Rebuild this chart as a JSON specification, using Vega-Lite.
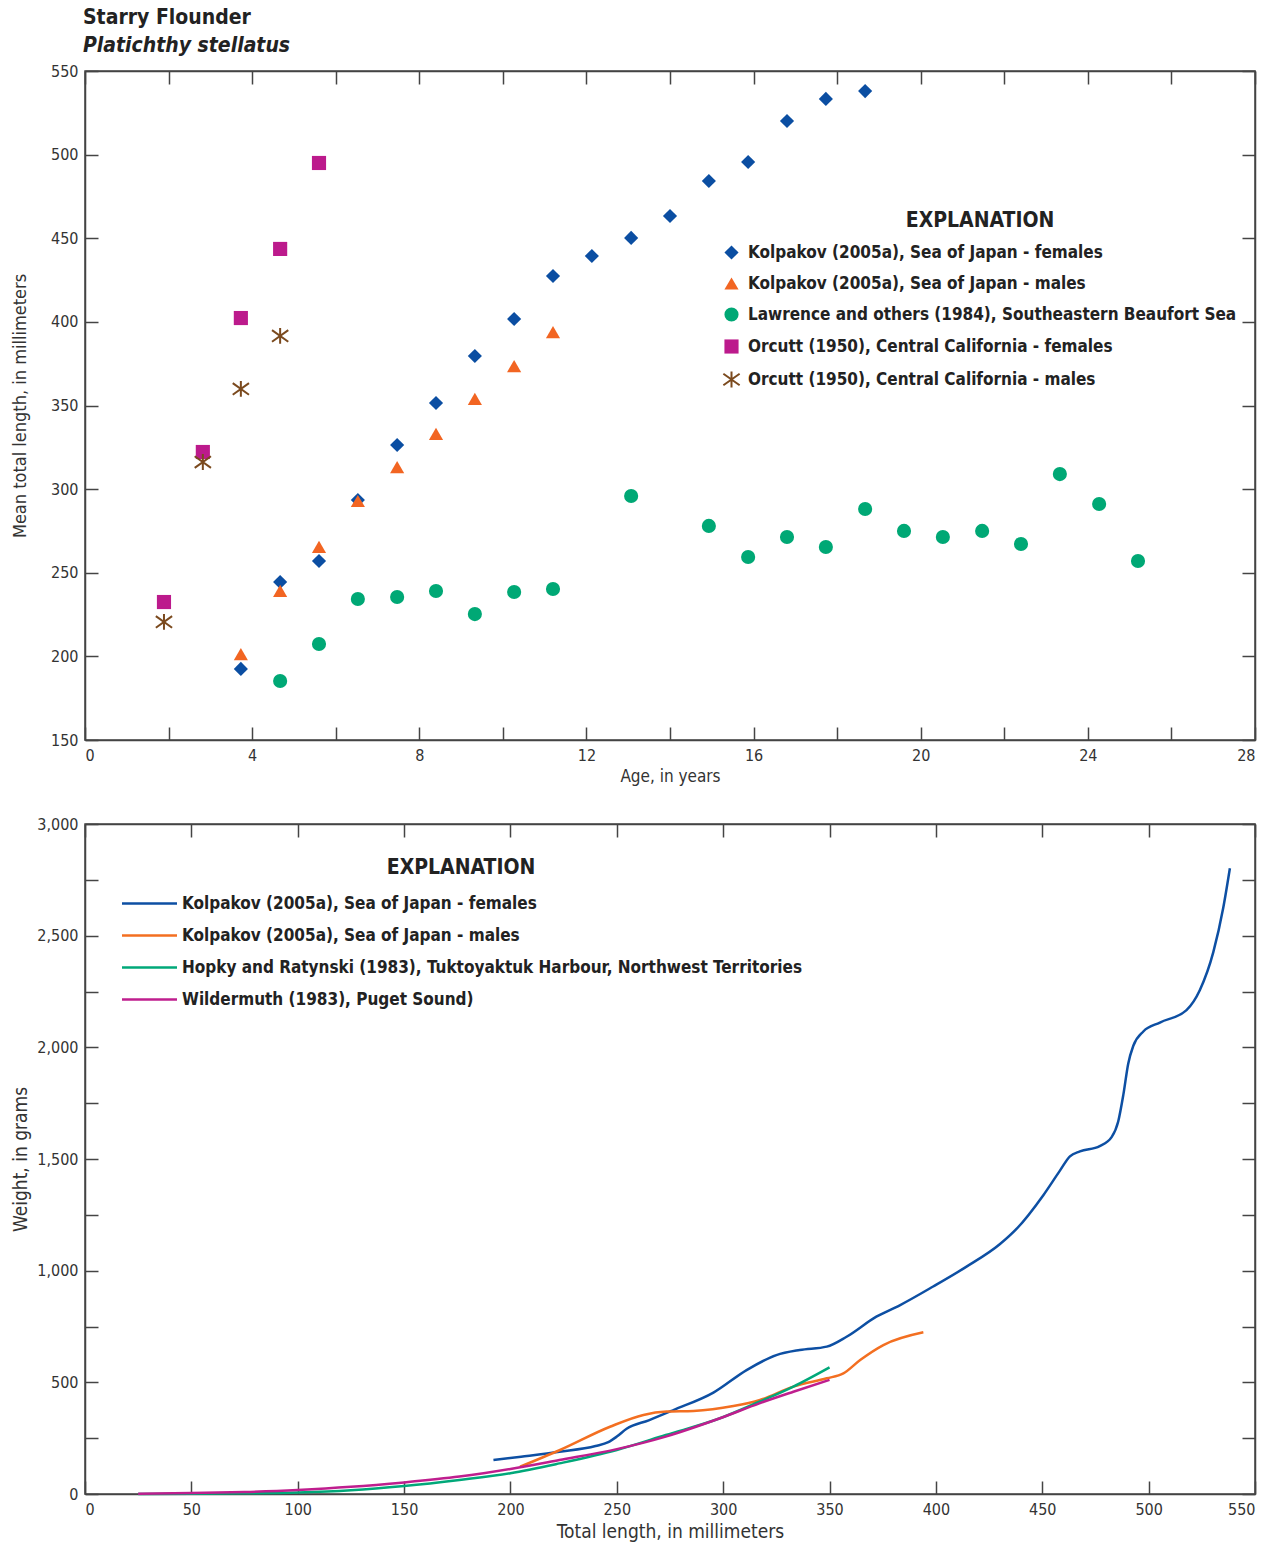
{
  "$schema": "https://vega.github.io/schema/vega-lite/v6.json",
  "background": "white",
  "padding": {"left": 10, "top": 6, "right": 13, "bottom": 5},
  "spacing": 30,
  "config": {
    "font": "DejaVu Sans Condensed",
    "view": {"stroke": "#444", "strokeWidth": 1.5},
    "axis": {"labelFont": "DejaVu Sans Condensed", "titleFont": "DejaVu Sans Condensed", "labelFontSize": 16, "titleFontSize": 18, "titleFontWeight": "normal", "labelColor": "#333", "titleColor": "#333", "domainColor": "#444", "domainWidth": 1.5, "tickColor": "#444", "tickWidth": 1.5, "tickSize": -13, "grid": false, "labelPadding": 20},
    "legend": {"labelFont": "DejaVu Sans Condensed", "titleFont": "DejaVu Sans Condensed", "labelFontWeight": "bold", "titleFontWeight": "bold", "labelColor": "#222", "titleColor": "#222", "labelLimit": 800}
  },
  "datasets": {
    "pts": [
      {"series": "Kolpakov (2005a), Sea of Japan - females", "age": 3.73, "len": 192.5},
      {"series": "Kolpakov (2005a), Sea of Japan - females", "age": 4.67, "len": 244.5},
      {"series": "Kolpakov (2005a), Sea of Japan - females", "age": 5.6, "len": 257},
      {"series": "Kolpakov (2005a), Sea of Japan - females", "age": 6.53, "len": 293.5},
      {"series": "Kolpakov (2005a), Sea of Japan - females", "age": 7.47, "len": 326.4},
      {"series": "Kolpakov (2005a), Sea of Japan - females", "age": 8.4, "len": 351.5},
      {"series": "Kolpakov (2005a), Sea of Japan - females", "age": 9.33, "len": 379.6},
      {"series": "Kolpakov (2005a), Sea of Japan - females", "age": 10.27, "len": 401.7},
      {"series": "Kolpakov (2005a), Sea of Japan - females", "age": 11.2, "len": 427.4},
      {"series": "Kolpakov (2005a), Sea of Japan - females", "age": 12.13, "len": 439.4},
      {"series": "Kolpakov (2005a), Sea of Japan - females", "age": 13.07, "len": 450.2},
      {"series": "Kolpakov (2005a), Sea of Japan - females", "age": 14.0, "len": 463.3},
      {"series": "Kolpakov (2005a), Sea of Japan - females", "age": 14.93, "len": 484.2},
      {"series": "Kolpakov (2005a), Sea of Japan - females", "age": 15.87, "len": 495.6},
      {"series": "Kolpakov (2005a), Sea of Japan - females", "age": 16.8, "len": 520.1},
      {"series": "Kolpakov (2005a), Sea of Japan - females", "age": 17.73, "len": 533.3},
      {"series": "Kolpakov (2005a), Sea of Japan - females", "age": 18.67, "len": 538.0},
      {"series": "Orcutt (1950), Central California - females", "age": 1.89, "len": 232.5},
      {"series": "Orcutt (1950), Central California - females", "age": 2.82, "len": 322.2},
      {"series": "Orcutt (1950), Central California - females", "age": 3.73, "len": 402.3},
      {"series": "Orcutt (1950), Central California - females", "age": 4.67, "len": 443.6},
      {"series": "Orcutt (1950), Central California - females", "age": 5.6, "len": 495},
      {"series": "Lawrence and others (1984), Southeastern Beaufort Sea", "age": 4.67, "len": 185.3},
      {"series": "Lawrence and others (1984), Southeastern Beaufort Sea", "age": 5.6, "len": 207.4},
      {"series": "Lawrence and others (1984), Southeastern Beaufort Sea", "age": 6.53, "len": 234.3},
      {"series": "Lawrence and others (1984), Southeastern Beaufort Sea", "age": 7.47, "len": 235.5},
      {"series": "Lawrence and others (1984), Southeastern Beaufort Sea", "age": 8.4, "len": 239.1},
      {"series": "Lawrence and others (1984), Southeastern Beaufort Sea", "age": 9.33, "len": 225.3},
      {"series": "Lawrence and others (1984), Southeastern Beaufort Sea", "age": 10.27, "len": 238.5},
      {"series": "Lawrence and others (1984), Southeastern Beaufort Sea", "age": 11.2, "len": 240.3},
      {"series": "Lawrence and others (1984), Southeastern Beaufort Sea", "age": 13.07, "len": 295.9},
      {"series": "Lawrence and others (1984), Southeastern Beaufort Sea", "age": 14.93, "len": 278.0},
      {"series": "Lawrence and others (1984), Southeastern Beaufort Sea", "age": 15.87, "len": 259.4},
      {"series": "Lawrence and others (1984), Southeastern Beaufort Sea", "age": 16.8, "len": 271.4},
      {"series": "Lawrence and others (1984), Southeastern Beaufort Sea", "age": 17.73, "len": 265.4},
      {"series": "Lawrence and others (1984), Southeastern Beaufort Sea", "age": 18.67, "len": 288.1},
      {"series": "Lawrence and others (1984), Southeastern Beaufort Sea", "age": 19.6, "len": 275.0},
      {"series": "Lawrence and others (1984), Southeastern Beaufort Sea", "age": 20.53, "len": 271.4},
      {"series": "Lawrence and others (1984), Southeastern Beaufort Sea", "age": 21.47, "len": 275.0},
      {"series": "Lawrence and others (1984), Southeastern Beaufort Sea", "age": 22.4, "len": 267.2},
      {"series": "Lawrence and others (1984), Southeastern Beaufort Sea", "age": 23.33, "len": 309.0},
      {"series": "Lawrence and others (1984), Southeastern Beaufort Sea", "age": 24.27, "len": 291.1},
      {"series": "Lawrence and others (1984), Southeastern Beaufort Sea", "age": 25.2, "len": 257.0},
      {"series": "Kolpakov (2005a), Sea of Japan - males", "age": 3.73, "len": 201.4},
      {"series": "Kolpakov (2005a), Sea of Japan - males", "age": 4.67, "len": 239.1},
      {"series": "Kolpakov (2005a), Sea of Japan - males", "age": 5.6, "len": 265.4},
      {"series": "Kolpakov (2005a), Sea of Japan - males", "age": 6.53, "len": 292.9},
      {"series": "Kolpakov (2005a), Sea of Japan - males", "age": 7.47, "len": 313.2},
      {"series": "Kolpakov (2005a), Sea of Japan - males", "age": 8.4, "len": 333.0},
      {"series": "Kolpakov (2005a), Sea of Japan - males", "age": 9.33, "len": 353.9},
      {"series": "Kolpakov (2005a), Sea of Japan - males", "age": 10.27, "len": 373.6},
      {"series": "Kolpakov (2005a), Sea of Japan - males", "age": 11.2, "len": 393.9},
      {"series": "Orcutt (1950), Central California - males", "age": 1.89, "len": 220.6},
      {"series": "Orcutt (1950), Central California - males", "age": 2.82, "len": 316.2},
      {"series": "Orcutt (1950), Central California - males", "age": 3.73, "len": 359.9},
      {"series": "Orcutt (1950), Central California - males", "age": 4.67, "len": 391.6}
    ],
    "lines": [
      {"source": "Kolpakov (2005a), Sea of Japan - females", "tl": 192, "w": 152},
      {"source": "Kolpakov (2005a), Sea of Japan - females", "tl": 205, "w": 167},
      {"source": "Kolpakov (2005a), Sea of Japan - females", "tl": 223, "w": 189},
      {"source": "Kolpakov (2005a), Sea of Japan - females", "tl": 240, "w": 215},
      {"source": "Kolpakov (2005a), Sea of Japan - females", "tl": 246, "w": 232},
      {"source": "Kolpakov (2005a), Sea of Japan - females", "tl": 250, "w": 257},
      {"source": "Kolpakov (2005a), Sea of Japan - females", "tl": 254.6, "w": 292},
      {"source": "Kolpakov (2005a), Sea of Japan - females", "tl": 265, "w": 330},
      {"source": "Kolpakov (2005a), Sea of Japan - females", "tl": 276.6, "w": 376},
      {"source": "Kolpakov (2005a), Sea of Japan - females", "tl": 295.4, "w": 454},
      {"source": "Kolpakov (2005a), Sea of Japan - females", "tl": 311, "w": 555},
      {"source": "Kolpakov (2005a), Sea of Japan - females", "tl": 325, "w": 622},
      {"source": "Kolpakov (2005a), Sea of Japan - females", "tl": 336, "w": 645},
      {"source": "Kolpakov (2005a), Sea of Japan - females", "tl": 348.7, "w": 660},
      {"source": "Kolpakov (2005a), Sea of Japan - females", "tl": 358, "w": 704},
      {"source": "Kolpakov (2005a), Sea of Japan - females", "tl": 372, "w": 794},
      {"source": "Kolpakov (2005a), Sea of Japan - females", "tl": 383, "w": 845},
      {"source": "Kolpakov (2005a), Sea of Japan - females", "tl": 398.7, "w": 929},
      {"source": "Kolpakov (2005a), Sea of Japan - females", "tl": 414.4, "w": 1018},
      {"source": "Kolpakov (2005a), Sea of Japan - females", "tl": 430, "w": 1118},
      {"source": "Kolpakov (2005a), Sea of Japan - females", "tl": 438, "w": 1188},
      {"source": "Kolpakov (2005a), Sea of Japan - females", "tl": 450.5, "w": 1338},
      {"source": "Kolpakov (2005a), Sea of Japan - females", "tl": 458.3, "w": 1448},
      {"source": "Kolpakov (2005a), Sea of Japan - females", "tl": 463, "w": 1512},
      {"source": "Kolpakov (2005a), Sea of Japan - females", "tl": 467.7, "w": 1534},
      {"source": "Kolpakov (2005a), Sea of Japan - females", "tl": 477, "w": 1558},
      {"source": "Kolpakov (2005a), Sea of Japan - females", "tl": 482.6, "w": 1598},
      {"source": "Kolpakov (2005a), Sea of Japan - females", "tl": 485.7, "w": 1668},
      {"source": "Kolpakov (2005a), Sea of Japan - females", "tl": 488.1, "w": 1787},
      {"source": "Kolpakov (2005a), Sea of Japan - females", "tl": 490.4, "w": 1927},
      {"source": "Kolpakov (2005a), Sea of Japan - females", "tl": 492.8, "w": 2007},
      {"source": "Kolpakov (2005a), Sea of Japan - females", "tl": 497.5, "w": 2071},
      {"source": "Kolpakov (2005a), Sea of Japan - females", "tl": 505.3, "w": 2111},
      {"source": "Kolpakov (2005a), Sea of Japan - females", "tl": 517.8, "w": 2167},
      {"source": "Kolpakov (2005a), Sea of Japan - females", "tl": 524.1, "w": 2257},
      {"source": "Kolpakov (2005a), Sea of Japan - females", "tl": 530.4, "w": 2426},
      {"source": "Kolpakov (2005a), Sea of Japan - females", "tl": 535.1, "w": 2626},
      {"source": "Kolpakov (2005a), Sea of Japan - females", "tl": 538.2, "w": 2802},
      {"source": "Kolpakov (2005a), Sea of Japan - males", "tl": 204.5, "w": 122},
      {"source": "Kolpakov (2005a), Sea of Japan - males", "tl": 223.3, "w": 197},
      {"source": "Kolpakov (2005a), Sea of Japan - males", "tl": 246.8, "w": 301},
      {"source": "Kolpakov (2005a), Sea of Japan - males", "tl": 262.5, "w": 354},
      {"source": "Kolpakov (2005a), Sea of Japan - males", "tl": 273.4, "w": 369},
      {"source": "Kolpakov (2005a), Sea of Japan - males", "tl": 286, "w": 372},
      {"source": "Kolpakov (2005a), Sea of Japan - males", "tl": 304.8, "w": 394},
      {"source": "Kolpakov (2005a), Sea of Japan - males", "tl": 317.3, "w": 421},
      {"source": "Kolpakov (2005a), Sea of Japan - males", "tl": 333, "w": 481},
      {"source": "Kolpakov (2005a), Sea of Japan - males", "tl": 348.7, "w": 518},
      {"source": "Kolpakov (2005a), Sea of Japan - males", "tl": 356.5, "w": 540},
      {"source": "Kolpakov (2005a), Sea of Japan - males", "tl": 364.4, "w": 600},
      {"source": "Kolpakov (2005a), Sea of Japan - males", "tl": 375.3, "w": 667},
      {"source": "Kolpakov (2005a), Sea of Japan - males", "tl": 394.1, "w": 724},
      {"source": "Hopky and Ratynski (1983), Tuktoyaktuk Harbour, Northwest Territories", "tl": 25, "w": 0},
      {"source": "Hopky and Ratynski (1983), Tuktoyaktuk Harbour, Northwest Territories", "tl": 50, "w": 1},
      {"source": "Hopky and Ratynski (1983), Tuktoyaktuk Harbour, Northwest Territories", "tl": 75, "w": 3},
      {"source": "Hopky and Ratynski (1983), Tuktoyaktuk Harbour, Northwest Territories", "tl": 100, "w": 7},
      {"source": "Hopky and Ratynski (1983), Tuktoyaktuk Harbour, Northwest Territories", "tl": 125, "w": 17},
      {"source": "Hopky and Ratynski (1983), Tuktoyaktuk Harbour, Northwest Territories", "tl": 150, "w": 36},
      {"source": "Hopky and Ratynski (1983), Tuktoyaktuk Harbour, Northwest Territories", "tl": 176, "w": 63},
      {"source": "Hopky and Ratynski (1983), Tuktoyaktuk Harbour, Northwest Territories", "tl": 200, "w": 93},
      {"source": "Hopky and Ratynski (1983), Tuktoyaktuk Harbour, Northwest Territories", "tl": 223, "w": 137},
      {"source": "Hopky and Ratynski (1983), Tuktoyaktuk Harbour, Northwest Territories", "tl": 250, "w": 197},
      {"source": "Hopky and Ratynski (1983), Tuktoyaktuk Harbour, Northwest Territories", "tl": 273, "w": 264},
      {"source": "Hopky and Ratynski (1983), Tuktoyaktuk Harbour, Northwest Territories", "tl": 298.5, "w": 339},
      {"source": "Hopky and Ratynski (1983), Tuktoyaktuk Harbour, Northwest Territories", "tl": 317, "w": 413},
      {"source": "Hopky and Ratynski (1983), Tuktoyaktuk Harbour, Northwest Territories", "tl": 333, "w": 481},
      {"source": "Hopky and Ratynski (1983), Tuktoyaktuk Harbour, Northwest Territories", "tl": 350, "w": 567},
      {"source": "Wildermuth (1983), Puget Sound)", "tl": 25, "w": 1},
      {"source": "Wildermuth (1983), Puget Sound)", "tl": 50, "w": 4},
      {"source": "Wildermuth (1983), Puget Sound)", "tl": 75, "w": 9},
      {"source": "Wildermuth (1983), Puget Sound)", "tl": 100, "w": 18},
      {"source": "Wildermuth (1983), Puget Sound)", "tl": 125, "w": 32},
      {"source": "Wildermuth (1983), Puget Sound)", "tl": 150, "w": 52},
      {"source": "Wildermuth (1983), Puget Sound)", "tl": 176, "w": 78},
      {"source": "Wildermuth (1983), Puget Sound)", "tl": 200, "w": 112},
      {"source": "Wildermuth (1983), Puget Sound)", "tl": 223, "w": 152},
      {"source": "Wildermuth (1983), Puget Sound)", "tl": 250, "w": 201},
      {"source": "Wildermuth (1983), Puget Sound)", "tl": 273, "w": 257},
      {"source": "Wildermuth (1983), Puget Sound)", "tl": 298.5, "w": 339},
      {"source": "Wildermuth (1983), Puget Sound)", "tl": 317, "w": 406},
      {"source": "Wildermuth (1983), Puget Sound)", "tl": 333, "w": 458},
      {"source": "Wildermuth (1983), Puget Sound)", "tl": 350, "w": 511}
    ]
  },
  "resolve": {"scale": {"fill": "independent", "stroke": "independent", "shape": "independent", "color": "independent"}, "legend": {"fill": "independent", "stroke": "independent", "shape": "independent", "color": "independent"}},
  "vconcat": [
    {
      "width": 1170,
      "height": 669,
      "title": {"text": "Starry Flounder", "subtitle": "Platichthy stellatus", "anchor": "start", "frame": "group", "font": "DejaVu Sans Condensed", "fontSize": 21, "fontWeight": "bold", "color": "#222", "subtitleFont": "DejaVu Sans Condensed", "subtitleFontSize": 21, "subtitleFontWeight": "bold", "subtitleFontStyle": "italic", "subtitleColor": "#222", "subtitlePadding": 7, "offset": 7, "dx": -2},
      "data": {"name": "pts"},
      "layer": [
        {
          "mark": {"type": "point", "filled": true, "opacity": 1, "strokeWidth": 2},
          "encoding": {
            "x": {"field": "age", "type": "quantitative", "scale": {"domain": [0, 28], "nice": false}, "axis": {"orient": "bottom", "title": "Age, in years", "values": [0, 2, 4, 6, 8, 10, 12, 14, 16, 18, 20, 22, 24, 26, 28], "labelExpr": "datum.value % 4 === 0 ? datum.label : ''", "titlePadding": 5, "titleFontSize": 17}},
            "y": {"field": "len", "type": "quantitative", "scale": {"domain": [150, 550], "nice": false, "zero": false}, "axis": {"orient": "left", "title": "Mean total length, in millimeters", "values": [150, 200, 250, 300, 350, 400, 450, 500, 550], "titleX": -65, "titleBaseline": "middle", "titleFontSize": 18}},
            "fill": {"field": "series", "type": "nominal", "scale": {"domain": ["Kolpakov (2005a), Sea of Japan - females", "Kolpakov (2005a), Sea of Japan - males", "Lawrence and others (1984), Southeastern Beaufort Sea", "Orcutt (1950), Central California - females", "Orcutt (1950), Central California - males"], "range": ["#0b4ea2", "#f26522", "#00a875", "#bc1a8c", "transparent"]},
              "legend": {"orient": "none", "legendX": 638, "legendY": 139, "title": "EXPLANATION", "titleFontSize": 21, "titleAnchor": "middle", "titlePadding": 13, "labelFontSize": 17, "rowPadding": 9, "symbolSize": 200, "labelOffset": 8, "symbolStrokeWidth": 2}},
            "stroke": {"field": "series", "type": "nominal", "scale": {"domain": ["Kolpakov (2005a), Sea of Japan - females", "Kolpakov (2005a), Sea of Japan - males", "Lawrence and others (1984), Southeastern Beaufort Sea", "Orcutt (1950), Central California - females", "Orcutt (1950), Central California - males"], "range": ["transparent", "transparent", "transparent", "transparent", "#7b4a1e"]}},
            "shape": {"field": "series", "type": "nominal", "scale": {"domain": ["Kolpakov (2005a), Sea of Japan - females", "Kolpakov (2005a), Sea of Japan - males", "Lawrence and others (1984), Southeastern Beaufort Sea", "Orcutt (1950), Central California - females", "Orcutt (1950), Central California - males"], "range": ["diamond", "triangle-up", "circle", "square", "M0,-1.12L0,1.12M-1.15,-0.82L1.15,0.82M-1.15,0.82L1.15,-0.82"]}},
            "size": {"value": 200}
          }
        },
        {
          "mark": {"type": "point", "opacity": 0},
          "encoding": {
            "x": {"field": "age", "type": "quantitative", "axis": {"orient": "top", "title": null, "labels": false, "values": [0, 2, 4, 6, 8, 10, 12, 14, 16, 18, 20, 22, 24, 26, 28]}},
            "y": {"field": "len", "type": "quantitative", "axis": {"orient": "right", "title": null, "labels": false, "values": [150, 200, 250, 300, 350, 400, 450, 500, 550]}}
          }
        }
      ],
      "resolve": {"axis": {"x": "independent", "y": "independent"}}
    },
    {
      "width": 1170,
      "height": 670,
      "data": {"name": "lines"},
      "layer": [
        {
          "mark": {"type": "line", "interpolate": "monotone", "strokeWidth": 2.5},
          "encoding": {
            "x": {"field": "tl", "type": "quantitative", "scale": {"domain": [0, 550], "nice": false}, "axis": {"orient": "bottom", "title": "Total length, in millimeters", "values": [0, 50, 100, 150, 200, 250, 300, 350, 400, 450, 500, 550], "titlePadding": 5, "titleFontSize": 19}},
            "y": {"field": "w", "type": "quantitative", "scale": {"domain": [0, 3000], "nice": false}, "axis": {"orient": "left", "title": "Weight, in grams", "values": [0, 250, 500, 750, 1000, 1250, 1500, 1750, 2000, 2250, 2500, 2750, 3000], "labelExpr": "datum.value % 500 === 0 ? datum.label : ''", "titleX": -65, "titleBaseline": "middle", "titleFontSize": 19}},
            "color": {"field": "source", "type": "nominal", "scale": {"domain": ["Kolpakov (2005a), Sea of Japan - females", "Kolpakov (2005a), Sea of Japan - males", "Hopky and Ratynski (1983), Tuktoyaktuk Harbour, Northwest Territories", "Wildermuth (1983), Puget Sound)"], "range": ["#0d4fa3", "#f36f21", "#00a879", "#bf1e8e"]},
              "legend": {"orient": "none", "legendX": 35, "legendY": 33, "title": "EXPLANATION", "titleFontSize": 21, "titleAnchor": "middle", "titlePadding": 13, "labelFontSize": 17, "rowPadding": 11, "symbolType": "M-2.5,0H2.5", "symbolSize": 484, "symbolOffset": 17, "symbolStrokeWidth": 2.5, "labelOffset": 20}}
          }
        },
        {
          "mark": {"type": "point", "opacity": 0},
          "encoding": {
            "x": {"field": "tl", "type": "quantitative", "axis": {"orient": "top", "title": null, "labels": false, "values": [0, 50, 100, 150, 200, 250, 300, 350, 400, 450, 500, 550]}},
            "y": {"field": "w", "type": "quantitative", "axis": {"orient": "right", "title": null, "labels": false, "values": [0, 250, 500, 750, 1000, 1250, 1500, 1750, 2000, 2250, 2500, 2750, 3000]}}
          }
        }
      ],
      "resolve": {"axis": {"x": "independent", "y": "independent"}}
    }
  ]
}
